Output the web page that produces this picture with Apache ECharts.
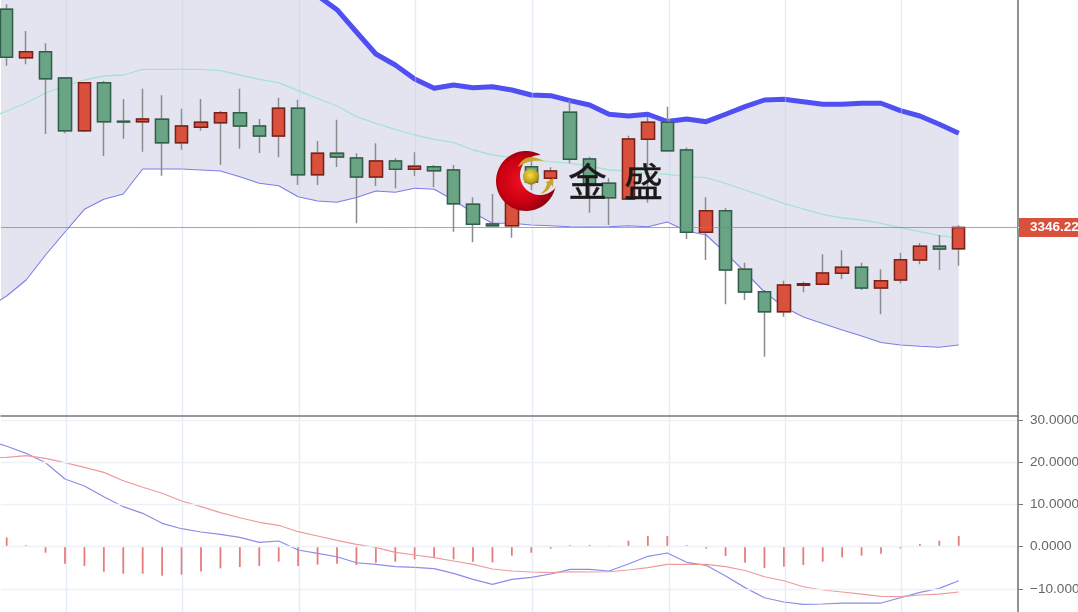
<!DOCTYPE html>
<html><head><meta charset="utf-8">
<style>html,body{margin:0;padding:0;background:#fff;overflow:hidden}#c{width:1078px;height:612px;filter:blur(.35px)}</style>
<script src="https://cdn.jsdelivr.net/npm/echarts@6/dist/echarts.min.js"></script>
</head><body><div id="c"></div>
<script>
const opens=[3400.78,3388.68,3390.18,3383.6,3370.43,3382.43,3372.78,3372.68,3373.28,3367.43,3371.28,3372.43,3374.93,3371.6,3369.1,3376.03,3359.43,3364.78,3363.6,3358.85,3362.85,3360.78,3361.43,3360.6,3352.03,3347.1,3346.68,3361.43,3358.53,3375.03,3363.35,3357.28,3353.35,3368.28,3372.53,3365.6,3345.03,3350.43,3335.78,3330.18,3325.18,3331.78,3332.03,3334.78,3336.28,3331.1,3333.1,3338.1,3341.53,3340.93];
const closes=[3388.78,3390.18,3383.43,3370.43,3382.43,3372.68,3372.6,3373.35,3367.43,3371.6,3372.53,3374.93,3371.6,3369.1,3376.03,3359.43,3364.78,3363.85,3358.85,3362.85,3360.78,3361.53,3360.43,3352.18,3347.03,3346.68,3361.85,3357.6,3360.35,3363.28,3357.1,3353.68,3368.35,3372.53,3365.43,3345.03,3350.43,3335.6,3330.1,3325.18,3331.85,3332.18,3334.85,3336.28,3331.1,3332.93,3338.18,3341.53,3340.85,3346.22];
const lows=[3386.68,3387.03,3369.6,3369.78,3370.1,3364.1,3368.43,3365.18,3359.18,3365.68,3370.43,3361.85,3365.93,3364.85,3363.78,3356.85,3356.85,3361.35,3347.28,3356.6,3356.03,3359.1,3356.28,3345.18,3342.53,3346.68,3343.68,3355.6,3358.1,3362.28,3349.93,3346.85,3353.35,3352.43,3365.18,3343.35,3338.1,3327.03,3328.1,3313.93,3323.93,3330.03,3332.03,3333.35,3330.6,3324.53,3332.28,3337.03,3335.6,3336.68];
const highs=[3402.03,3395.35,3392.28,3383.85,3382.53,3382.85,3378.35,3380.93,3379.28,3375.93,3378.35,3375.35,3380.93,3373.35,3378.68,3378.18,3367.85,3373.18,3364.78,3367.28,3363.53,3365.03,3361.85,3361.85,3353.78,3354.6,3364.35,3363.85,3361.28,3378.1,3363.93,3358.53,3369.18,3373.93,3376.43,3366.23,3353.78,3351.03,3337.43,3330.6,3332.93,3332.68,3339.53,3340.53,3337.43,3335.78,3339.93,3342.35,3344.35,3346.78];
// indicator arrays start one bar before the first visible candle (index -1)
const bollUpper=[3420.6,3421.6,3421.6,3420.35,3418.1,3415.35,3414.85,3414.1,3410.7,3410.7,3410.7,3410.95,3410.5,3409.78,3409.28,3408.18,3406.93,3404.2,3400.68,3395.1,3389.6,3386.85,3383.35,3381.03,3381.85,3381.18,3381.43,3380.6,3379.35,3379.18,3377.93,3376.85,3374.53,3374.1,3374.53,3372.73,3373.35,3372.68,3374.53,3376.43,3378.1,3378.28,3377.68,3377.03,3377.03,3377.28,3377.28,3375.43,3374.1,3372.03,3369.78];
const bollMid=[3373.35,3375.35,3377.35,3379.85,3381.6,3383.1,3384.1,3384.35,3385.78,3385.78,3385.78,3385.78,3385.43,3384.35,3383.28,3382.43,3380.43,3378.53,3376.6,3373.93,3372.28,3370.78,3369.35,3368.28,3367.53,3365.6,3364.35,3363.78,3363.1,3362.68,3362.28,3361.6,3360.6,3360.35,3359.78,3359.53,3358.93,3358.68,3357.28,3355.6,3353.93,3352.28,3350.85,3349.53,3348.6,3348.1,3347.28,3346.18,3345.18,3344.18,3343.6];
const bollLower=[3326.1,3329.1,3333.1,3339.35,3345.1,3350.78,3353.28,3354.6,3360.85,3360.85,3360.85,3360.6,3360.35,3358.93,3357.28,3356.68,3353.93,3352.85,3352.53,3353.73,3355.35,3355.03,3356.03,3355.78,3353.1,3349.93,3347.28,3347.28,3346.85,3346.68,3346.43,3346.35,3346.43,3346.68,3346.43,3347.6,3345.35,3344.35,3339.85,3335.1,3330.1,3326.35,3323.85,3322.23,3320.6,3319.1,3317.48,3316.85,3316.53,3316.28,3316.85];
const dif=[25.25,23.76,22.1,19.88,16.02,14.37,11.83,9.47,7.9,5.54,4.26,3.48,2.93,2.22,1.04,1.35,-0.78,-1.56,-2.37,-3.79,-4.17,-4.73,-4.88,-5.2,-6.3,-7.72,-8.9,-7.72,-7.24,-6.46,-5.35,-5.35,-5.75,-4.09,-2.27,-1.49,-3.69,-4.4,-6.93,-9.68,-12.07,-13.09,-13.63,-13.56,-13.33,-13.33,-13.33,-12.07,-10.79,-9.85,-8.05];
const dea=[21,21.16,21.54,20.92,19.88,18.79,17.6,15.62,14.06,12.64,10.82,9.47,8.05,6.86,5.78,5.07,3.55,2.53,1.51,0.57,-0.14,-1.33,-1.96,-2.6,-3.38,-4.17,-5.28,-5.75,-5.99,-6.15,-5.92,-5.99,-5.92,-5.51,-4.97,-4.17,-4.17,-4.17,-4.73,-5.63,-7.1,-8.05,-9.47,-10.25,-10.72,-11.2,-11.74,-11.83,-11.43,-11.2,-10.72];
const macdBar=[2.2,0.4,-1.42,-4.02,-4.58,-5.92,-6.39,-6.39,-6.86,-6.63,-5.84,-5.13,-4.81,-4.58,-3.55,-4.58,-4.26,-4.02,-4.34,-3.79,-3.55,-3.0,-2.6,-3.0,-3.55,-3.71,-2.13,-1.42,-0.47,0.4,0.4,0.24,1.42,2.52,2.52,0.4,-0.47,-2.2,-3.79,-5.05,-4.73,-4.34,-3.55,-2.52,-2.13,-1.66,-0.4,0.63,1.42,2.52];
const timeMarks=[3.09,9.04,15.04,21.05,27.04,34.09,40.09,46.03];
const lastPrice=3346.22;
const macdTicks=[-10,0,10,20,30];

const xMin=-0.293,xMax=52.05;
const priceTop=3403.1,priceBottom=3299.1;
const macdTop=30.93,macdBottom=-15.45;
const line=(arr)=>arr.map((v,i)=>[i-1,v]);
const vMark=()=>({silent:true,symbol:'none',label:{show:false},lineStyle:{color:'rgba(190,210,232,.42)',width:1.4,type:'solid'},data:timeMarks.map(x=>({xAxis:x}))});
const xAx=(g)=>({type:'value',gridIndex:g,z:20,min:xMin,max:xMax,axisLabel:{show:false},axisTick:{show:false},splitLine:{show:false},
  axisLine:{show:g===0,onZero:false,lineStyle:{color:'#777',width:1.6}}});
const fmt=v=>(v<0?'\u2212':'')+Math.abs(v).toFixed(4);

// logo outline helpers (decoration only)
function arcPts(cx,cy,r,a0,a1,n){const p=[];for(let i=0;i<=n;i++){const a=(a0+(a1-a0)*i/n)*Math.PI/180;p.push([cx+r*Math.cos(a),cy+r*Math.sin(a)]);}return p;}
function qPts(a,c,b,n){const p=[];for(let i=0;i<=n;i++){const t=i/n,u=1-t;p.push([u*u*a[0]+2*u*t*c[0]+t*t*b[0],u*u*a[1]+2*u*t*c[1]+t*t*b[1]]);}return p;}
const crescent=[...arcPts(526,181,30,-62,-348,48),...arcPts(540,175,20,35,270,36)];
const swooshTop=[...qPts([518,167],[525,151],[544,161],14),...qPts([544,161],[530,159],[518,167],14)];
const swooshBot=[...qPts([540,194],[546,190],[547,183],8),[545,183],[553.5,178],[553,187],[551,184.5],...qPts([551,184.5],[549,192],[540,194],8)];

const chart=echarts.init(document.getElementById('c'),null,{renderer:'canvas'});
chart.setOption({
  animation:false,
  grid:[{left:1,right:60,top:0,height:416,outerBoundsMode:'none'},{left:1,right:60,top:416,height:196,outerBoundsMode:'none'}],
  xAxis:[xAx(0),xAx(1)],
  yAxis:[
   {type:'value',gridIndex:0,position:'right',z:20,min:priceBottom,max:priceTop,scale:true,
    axisLine:{show:true,onZero:false,lineStyle:{color:'#777',width:1.6}},splitLine:{show:false},
    axisTick:{show:true,length:5,customValues:[lastPrice],lineStyle:{color:'#fff',width:1}},
    axisLabel:{show:true,customValues:[lastPrice],formatter:v=>v.toFixed(2),margin:1,color:'#fff',fontFamily:'Liberation Sans',fontWeight:'bold',fontSize:13.5,backgroundColor:'#d9503c',padding:[3,30,3,11],lineHeight:13,align:'left'}},
   {type:'value',gridIndex:1,position:'right',z:20,min:macdBottom,max:macdTop,
    axisLine:{show:true,onZero:false,lineStyle:{color:'#777',width:1.6}},
    splitLine:{show:true,customValues:macdTicks,lineStyle:{color:'#edf1f6',width:1.4}},
    axisTick:{show:true,length:5,customValues:macdTicks,lineStyle:{color:'#777',width:1}},
    axisLabel:{show:true,customValues:macdTicks,formatter:fmt,margin:12,color:'#666',fontFamily:'Liberation Sans',fontSize:13.6,align:'left'}}
  ],
  series:[
   {type:'line',name:'bandUpper',xAxisIndex:0,yAxisIndex:0,data:line(bollUpper),symbol:'none',lineStyle:{width:0,opacity:0},areaStyle:{color:'#e4e4f0',opacity:1,origin:'start'},z:1},
   {type:'line',name:'bandLowerMask',xAxisIndex:0,yAxisIndex:0,data:line(bollLower).concat([[49.1,bollLower[bollLower.length-1]]]),symbol:'none',lineStyle:{width:0,opacity:0},areaStyle:{color:'#fff',opacity:1,origin:'start'},z:1},
   {type:'line',name:'marksTop',xAxisIndex:0,yAxisIndex:0,data:[],z:2,markLine:vMark()},
   {type:'line',name:'marksBot',xAxisIndex:1,yAxisIndex:1,data:[],z:1,markLine:vMark()},
   {type:'line',name:'BOLL mid',xAxisIndex:0,yAxisIndex:0,data:line(bollMid),symbol:'none',lineStyle:{color:'#a5e3cf',width:1.3},z:3},
   {type:'line',name:'BOLL lower',xAxisIndex:0,yAxisIndex:0,data:line(bollLower),symbol:'none',lineStyle:{color:'#7d7de8',width:1.1},z:3},
   {type:'line',name:'BOLL upper',xAxisIndex:0,yAxisIndex:0,data:line(bollUpper),symbol:'none',lineStyle:{color:'#5050f2',width:5,join:'round'},z:3},
   {type:'candlestick',name:'wick',xAxisIndex:0,yAxisIndex:0,barWidth:13,encode:{x:0,y:[1,2,3,4]},
    data:opens.map((o,i)=>[i,o,closes[i],lows[i],highs[i]]),
    itemStyle:{color:'#d9503c',color0:'#69a585',borderColor:'#8b8b8b',borderColor0:'#8b8b8b',borderWidth:1.5},z:4},
   {type:'candlestick',name:'K',xAxisIndex:0,yAxisIndex:0,barWidth:13,encode:{x:0,y:[1,2,3,4]},
    data:opens.map((o,i)=>[i,o,closes[i],Math.min(o,closes[i]),Math.max(o,closes[i])]),
    itemStyle:{color:'#d9503c',color0:'#69a585',borderColor:'#7a2018',borderColor0:'#2f5f48',borderWidth:1.4},z:5},
   {type:'line',name:'last',xAxisIndex:0,yAxisIndex:0,data:[[xMin,lastPrice],[xMax,lastPrice]],symbol:'none',z:6,
    lineStyle:{color:'rgba(226,96,76,.72)',type:'solid',width:1,opacity:1}},
   {type:'bar',name:'MACD',xAxisIndex:1,yAxisIndex:1,barWidth:1.8,data:macdBar.map((v,i)=>[i,v]),itemStyle:{color:'rgba(226,90,90,.8)'},z:3},
   {type:'line',name:'DIF',xAxisIndex:1,yAxisIndex:1,data:line(dif),symbol:'none',lineStyle:{color:'#8c8cea',width:1.2},z:4},
   {type:'line',name:'DEA',xAxisIndex:1,yAxisIndex:1,data:line(dea),symbol:'none',lineStyle:{color:'#ef9a9a',width:1.2},z:4}
  ],
  graphic:[
   {type:'polygon',z:100,shape:{points:crescent},
    style:{fill:new echarts.graphic.RadialGradient(0.42,0.5,0.62,[{offset:0,color:'#f01020'},{offset:.6,color:'#c80012'},{offset:1,color:'#7a0010'}])}},
   {type:'polygon',z:101,shape:{points:swooshTop},style:{fill:'#c8a52c'}},
   {type:'polygon',z:101,shape:{points:swooshBot},style:{fill:'#c8a52c'}},
   {type:'circle',z:101,shape:{cx:531,cy:176.7,r:8},style:{fill:new echarts.graphic.RadialGradient(0.45,0.4,0.6,[{offset:0,color:'#f4dc4a'},{offset:.7,color:'#c2a41e'},{offset:1,color:'#8a7a12'}])}},
   {type:'text',z:101,x:568,y:162,style:{text:'金',fontFamily:'Noto Sans CJK SC',fontSize:39,fill:'#1a1a1a',stroke:'#1a1a1a',lineWidth:.4}},
   {type:'text',z:101,x:624,y:162,style:{text:'盛',fontFamily:'Noto Sans CJK SC',fontSize:39,fill:'#1a1a1a',stroke:'#1a1a1a',lineWidth:.4}}
  ]
});
</script></body></html>
